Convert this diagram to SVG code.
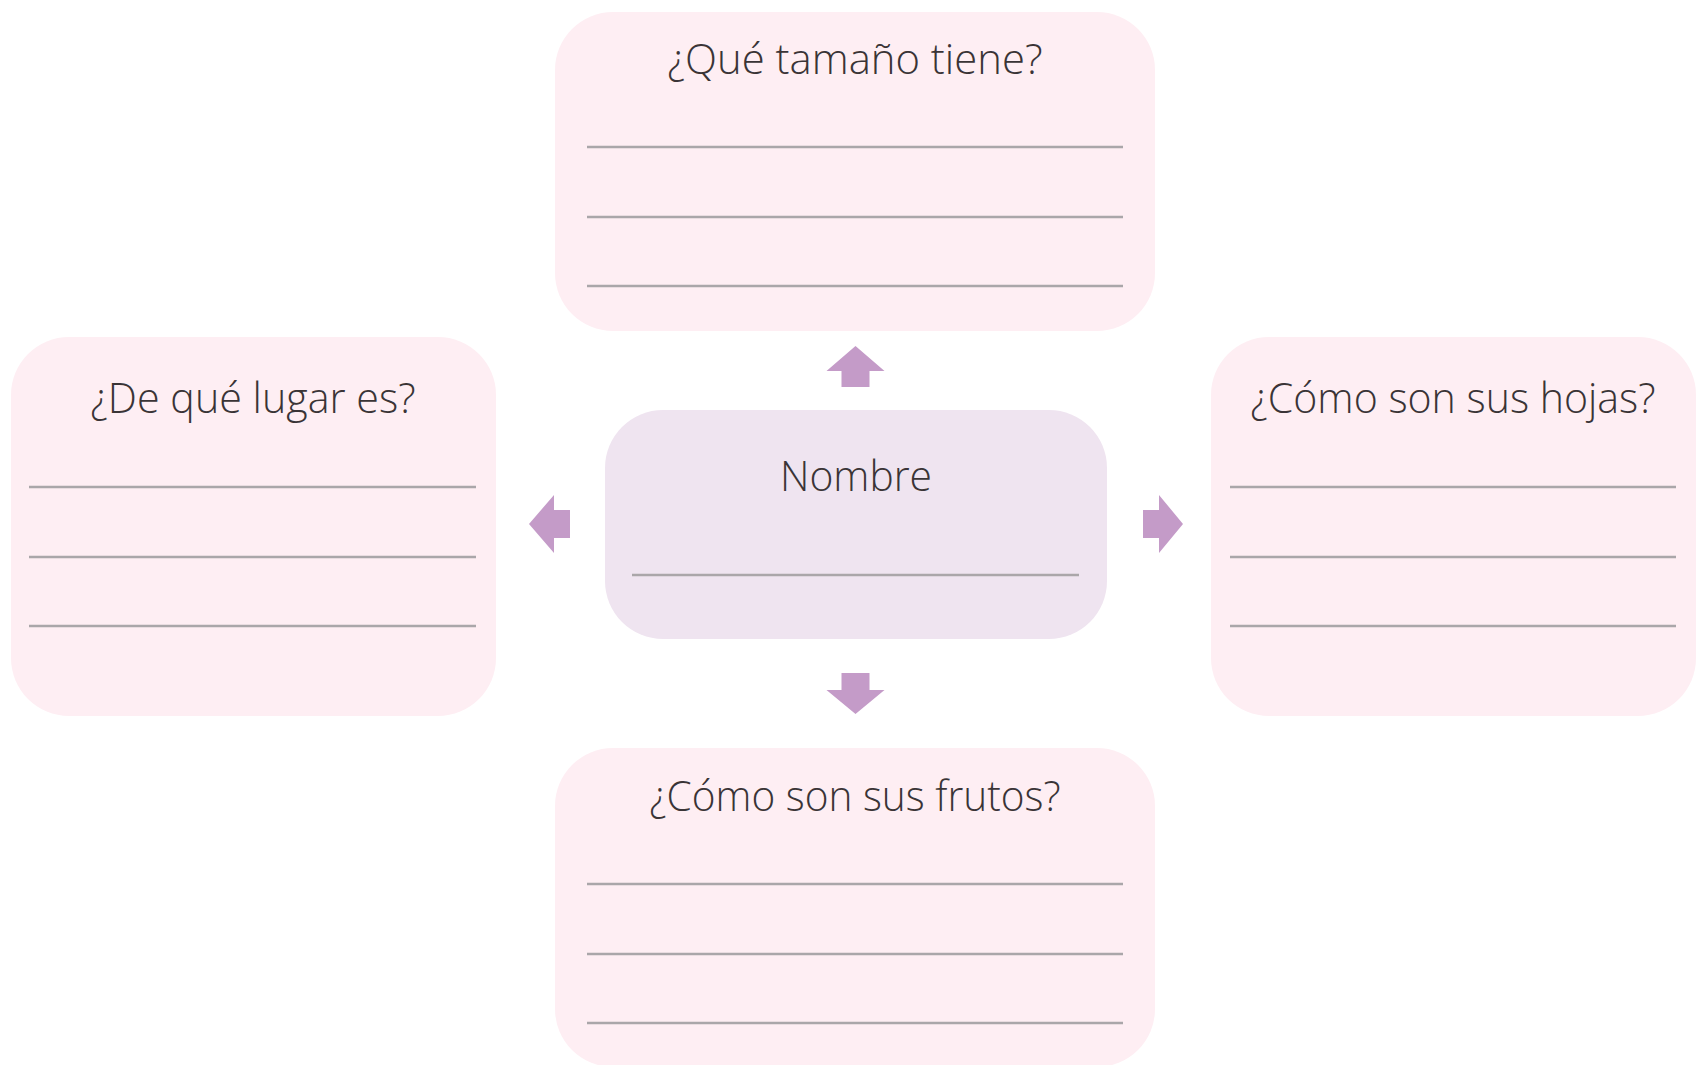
<svg xmlns="http://www.w3.org/2000/svg" width="1708" height="1065" viewBox="0 0 1708 1065">
<style>
.box{fill:#FEEEF3}
.mid{fill:#EFE4F0}
.t{font-family:"Open Sans","Noto Sans",sans-serif;font-size:42px;font-weight:360;fill:#3a3436;text-anchor:middle}
.ln{stroke:#aaa6a9;stroke-width:2.4}
.arr{fill:#C49BC8}
</style>
<rect width="1708" height="1065" fill="#ffffff"/>
<g id="node-tamano">
<rect class="box" x="555" y="12" width="600" height="319" rx="58" ry="58"/>
<text class="t" x="855" y="74" textLength="375" lengthAdjust="spacingAndGlyphs">¿Qué tamaño tiene?</text>
<line class="ln" x1="587" y1="147" x2="1123" y2="147"/>
<line class="ln" x1="587" y1="217" x2="1123" y2="217"/>
<line class="ln" x1="587" y1="286" x2="1123" y2="286"/>
</g>
<g id="node-lugar">
<rect class="box" x="11" y="337" width="485" height="379" rx="58" ry="58"/>
<text class="t" x="253" y="413" textLength="325" lengthAdjust="spacingAndGlyphs">¿De qué lugar es?</text>
<line class="ln" x1="29" y1="487" x2="476" y2="487"/>
<line class="ln" x1="29" y1="557" x2="476" y2="557"/>
<line class="ln" x1="29" y1="626" x2="476" y2="626"/>
</g>
<g id="node-nombre">
<rect class="mid" x="605" y="410" width="502" height="229" rx="58" ry="58"/>
<text class="t" x="856" y="491" textLength="152" lengthAdjust="spacingAndGlyphs">Nombre</text>
<line class="ln" x1="632" y1="575" x2="1079" y2="575"/>
</g>
<g id="node-hojas">
<rect class="box" x="1211" y="337" width="485" height="379" rx="58" ry="58"/>
<text class="t" x="1453" y="413" textLength="405" lengthAdjust="spacingAndGlyphs">¿Cómo son sus hojas?</text>
<line class="ln" x1="1230" y1="487" x2="1676" y2="487"/>
<line class="ln" x1="1230" y1="557" x2="1676" y2="557"/>
<line class="ln" x1="1230" y1="626" x2="1676" y2="626"/>
</g>
<g id="node-frutos">
<rect class="box" x="555" y="748" width="600" height="319" rx="58" ry="58"/>
<text class="t" x="855" y="811" textLength="411" lengthAdjust="spacingAndGlyphs">¿Cómo son sus frutos?</text>
<line class="ln" x1="587" y1="884" x2="1123" y2="884"/>
<line class="ln" x1="587" y1="954" x2="1123" y2="954"/>
<line class="ln" x1="587" y1="1023" x2="1123" y2="1023"/>
</g>
<g id="connectors">
<polygon class="arr" points="855.5,346 884.5,371 869.5,371 869.5,387 841.5,387 841.5,371 826.5,371"/>
<polygon class="arr" points="855.5,714 884.5,690 869.5,690 869.5,673 841.5,673 841.5,690 826.5,690"/>
<polygon class="arr" points="529,524 554,495 554,510 570,510 570,538 554,538 554,553"/>
<polygon class="arr" points="1183,524 1159,495 1159,510 1143,510 1143,538 1159,538 1159,553"/>
</g>
</svg>
